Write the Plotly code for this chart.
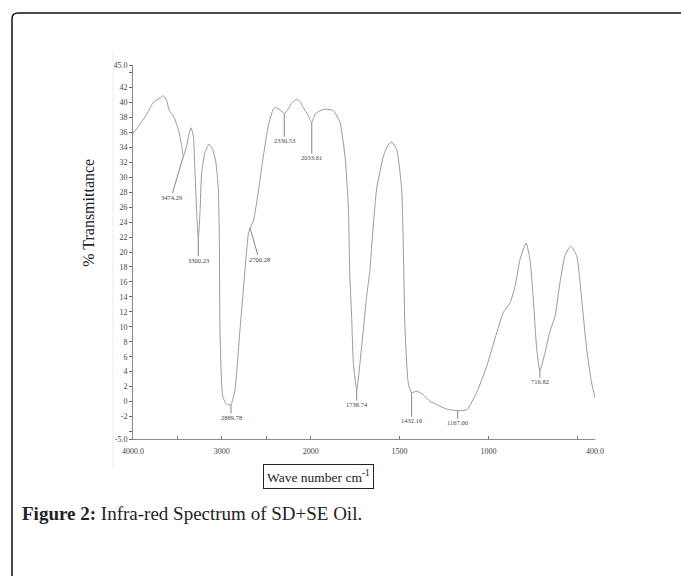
import numpy as np
import plotly.graph_objects as go

# ---- data (wavenumber cm-1, % transmittance) ----
wavenumber = [4000, 3940, 3846, 3772, 3696, 3659, 3621, 3591, 3546, 3490, 3452, 3434,
              3396, 3366, 3347, 3321, 3302, 3283, 3265, 3246, 3227, 3190, 3145, 3103,
              3066, 3040, 3028, 3021, 2990, 2945, 2897, 2852, 2796, 2739, 2702, 2683,
              2646, 2608, 2533, 2477, 2421, 2394, 2346, 2297, 2250, 2209, 2158, 2120,
              2083, 2027, 1994, 1976, 1948, 1910, 1873, 1835, 1807, 1788, 1780, 1769,
              1760, 1741, 1713, 1685, 1666, 1657, 1629, 1591, 1565, 1544, 1516, 1488,
              1480, 1469, 1451, 1432, 1403, 1366, 1329, 1291, 1235, 1173, 1122, 1066,
              1010, 953, 916, 878, 850, 822, 788, 766, 747, 728, 710, 682, 653, 625,
              597, 569, 537, 503, 475, 447, 419, 400]
transmittance = [35.8, 36.8, 38.4, 40.0, 40.6, 40.9, 40.2, 38.9, 38.2, 36.4, 34.2, 32.8,
                 34.2, 36.0, 36.6, 35.5, 30.6, 25.3, 21.7, 25.3, 30.6, 33.3, 34.4, 33.7,
                 31.9, 28.4, 21.7, 9.6, 0.7, -0.4, -0.4, 1.6, 9.6, 17.7, 22.4, 23.2,
                 24.1, 26.6, 32.8, 36.9, 39.1, 39.3, 39.0, 38.5, 39.2, 40.0, 40.4, 40.1,
                 39.3, 38.2, 37.3, 38.4, 38.9, 39.1, 38.9, 37.3, 32.8, 26.0, 17.0, 11.0,
                 5.2, 1.6, 7.4, 14.1, 17.7, 20.8, 28.4, 32.8, 34.3, 34.7, 33.7, 28.4,
                 22.0, 9.6, 2.5, 1.2, 1.4, 0.9, 0.04, -0.4, -1.0, -1.2, -1.1, 1.2,
                 4.7, 9.2, 11.9, 13.2, 15.4, 19.0, 21.2, 19.0, 13.7, 7.0, 4.1, 6.5, 9.4, 11.4,
                 15.9, 19.5, 20.8, 19.5, 13.7, 7.0, 2.5, 0.5]

# peak labels: printed text, curve point (wavenumber, %T), label offset (px)
peak_text = ["3474.29", "3300.23", "2889.78", "2700.28", "2330.53", "2033.61",
             "1738.74", "1432.16", "1167.00", "716.82"]
peak_wn = [3434, 3265, 2897, 2683, 2297, 1994, 1741, 1432, 1173, 710]
peak_tr = [32.8, 21.7, -0.4, 23.2, 38.5, 37.3, 1.6, 1.2, -1.2, 4.1]
peak_dx = [-12, 0, 0, 9, 0, 0, 0, 0, 0, 0]
peak_dy = [41, 21, 13, 31, 27, 35, 15, 28, 12, 11]

ytick_vals = [45, 42, 40, 38, 36, 34, 32, 30, 28, 26, 24, 22, 20, 18, 16, 14, 12,
              10, 8, 6, 4, 2, 0, -2, -5]
ytick_text = ["45.0", "42", "40", "38", "36", "34", "32", "30", "28", "26", "24",
              "22", "20", "18", "16", "14", "12", "10", "8", "6", "4", "2", "0", "-2", "-5.0"]
yminor_vals = [44, -4]
xtick_wn = [4000, 3000, 2000, 1500, 1000, 400]
xtick_text = ["4000.0", "3000", "2000", "1500", "1000", "400.0"]
xminor_wn = [3500, 2500, 500]


# FT-IR chart uses a 2x scale change at 2000 cm-1
def axis_pos(w):
    w = np.asarray(w, dtype=float)
    return np.where(w >= 2000, (4000 - w) / 2.0, 1000 + (2000 - w))


W_FIG, H_FIG = 681, 576
ML, MR, MT, MB = 133, 86, 65, 136.5
PW, PH = W_FIG - ML - MR, H_FIG - MT - MB


def px_x(px):
    return (px - ML) / PW


def px_y(py):
    return (H_FIG - MB - py) / PH


SERIF = "Liberation Serif"

fig = go.Figure()
fig.add_trace(go.Scatter(
    x=axis_pos(wavenumber), y=transmittance, mode="lines",
    line=dict(color="#9a9a9a", width=1, shape="spline", smoothing=0.5),
    hoverinfo="skip", showlegend=False))

for txt, w, tr, dx, dy in zip(peak_text, peak_wn, peak_tr, peak_dx, peak_dy):
    fig.add_annotation(x=float(axis_pos(w)), y=tr, xref="x", yref="y", text=txt,
                       showarrow=True, arrowhead=0, arrowwidth=0.8, arrowcolor="#666",
                       ax=dx, ay=dy, standoff=0, borderpad=0,
                       font=dict(family=SERIF, size=6.5, color="#444"))

fig.update_layout(
    width=W_FIG, height=H_FIG,
    margin=dict(l=ML, r=MR, t=MT, b=MB),
    paper_bgcolor="white", plot_bgcolor="white",
    xaxis=dict(range=[0, 2600], tickvals=list(axis_pos(xtick_wn)), ticktext=xtick_text,
               ticks="inside", ticklen=3, tickcolor="#777", showgrid=False, zeroline=False,
               showline=True, linecolor="#888", linewidth=1, ticklabelstandoff=4,
               minor=dict(tickmode="array", tickvals=list(axis_pos(xminor_wn)),
                          ticks="inside", ticklen=3, tickcolor="#777", showgrid=False),
               tickfont=dict(family=SERIF, size=8, color="#444")),
    yaxis=dict(range=[-5, 45], tickvals=ytick_vals, ticktext=ytick_text,
               ticks="outside", ticklen=3, tickcolor="#666", showgrid=False, zeroline=False,
               showline=True, linecolor="#888", linewidth=1,
               minor=dict(tickmode="array", tickvals=yminor_vals,
                          ticks="outside", ticklen=3, tickcolor="#666", showgrid=False),
               tickfont=dict(family=SERIF, size=8, color="#444")),
)

# y axis title
fig.add_annotation(x=px_x(89), y=px_y(213), xref="paper", yref="paper",
                   xanchor="center", yanchor="middle",
                   text="% Transmittance", textangle=-90, showarrow=False,
                   font=dict(family=SERIF, size=16, color="#222"))
# x axis title in a box
fig.add_annotation(x=px_x(318), y=px_y(477), xref="paper", yref="paper",
                   xanchor="center", yanchor="middle",
                   text="Wave number cm<sup>-1</sup>", showarrow=False,
                   bordercolor="#222", borderwidth=1, borderpad=3, bgcolor="white",
                   font=dict(family=SERIF, size=13.5, color="#222"))
# caption
fig.add_annotation(x=px_x(20), y=px_y(514), xref="paper", yref="paper",
                   xanchor="left", yanchor="middle",
                   text="<b>Figure 2:</b> Infra-red Spectrum of SD+SE Oil.", showarrow=False,
                   font=dict(family=SERIF, size=19, color="#222"))

# outer rounded frame (top and left edges)
r = 6
path = (f"M {px_x(12)},{px_y(580)} L {px_x(12)},{px_y(13 + r)} "
        f"Q {px_x(12)},{px_y(13)} {px_x(12 + r)},{px_y(13)} L {px_x(690)},{px_y(13)}")
fig.add_shape(type="path", path=path, xref="paper", yref="paper",
              line=dict(color="#111", width=1.5))
# faint scan edge line
fig.add_shape(type="line", xref="paper", yref="paper", x0=px_x(113), x1=px_x(113),
              y0=px_y(50), y1=px_y(470), line=dict(color="#ececec", width=1))

fig.write_html("out.html")
